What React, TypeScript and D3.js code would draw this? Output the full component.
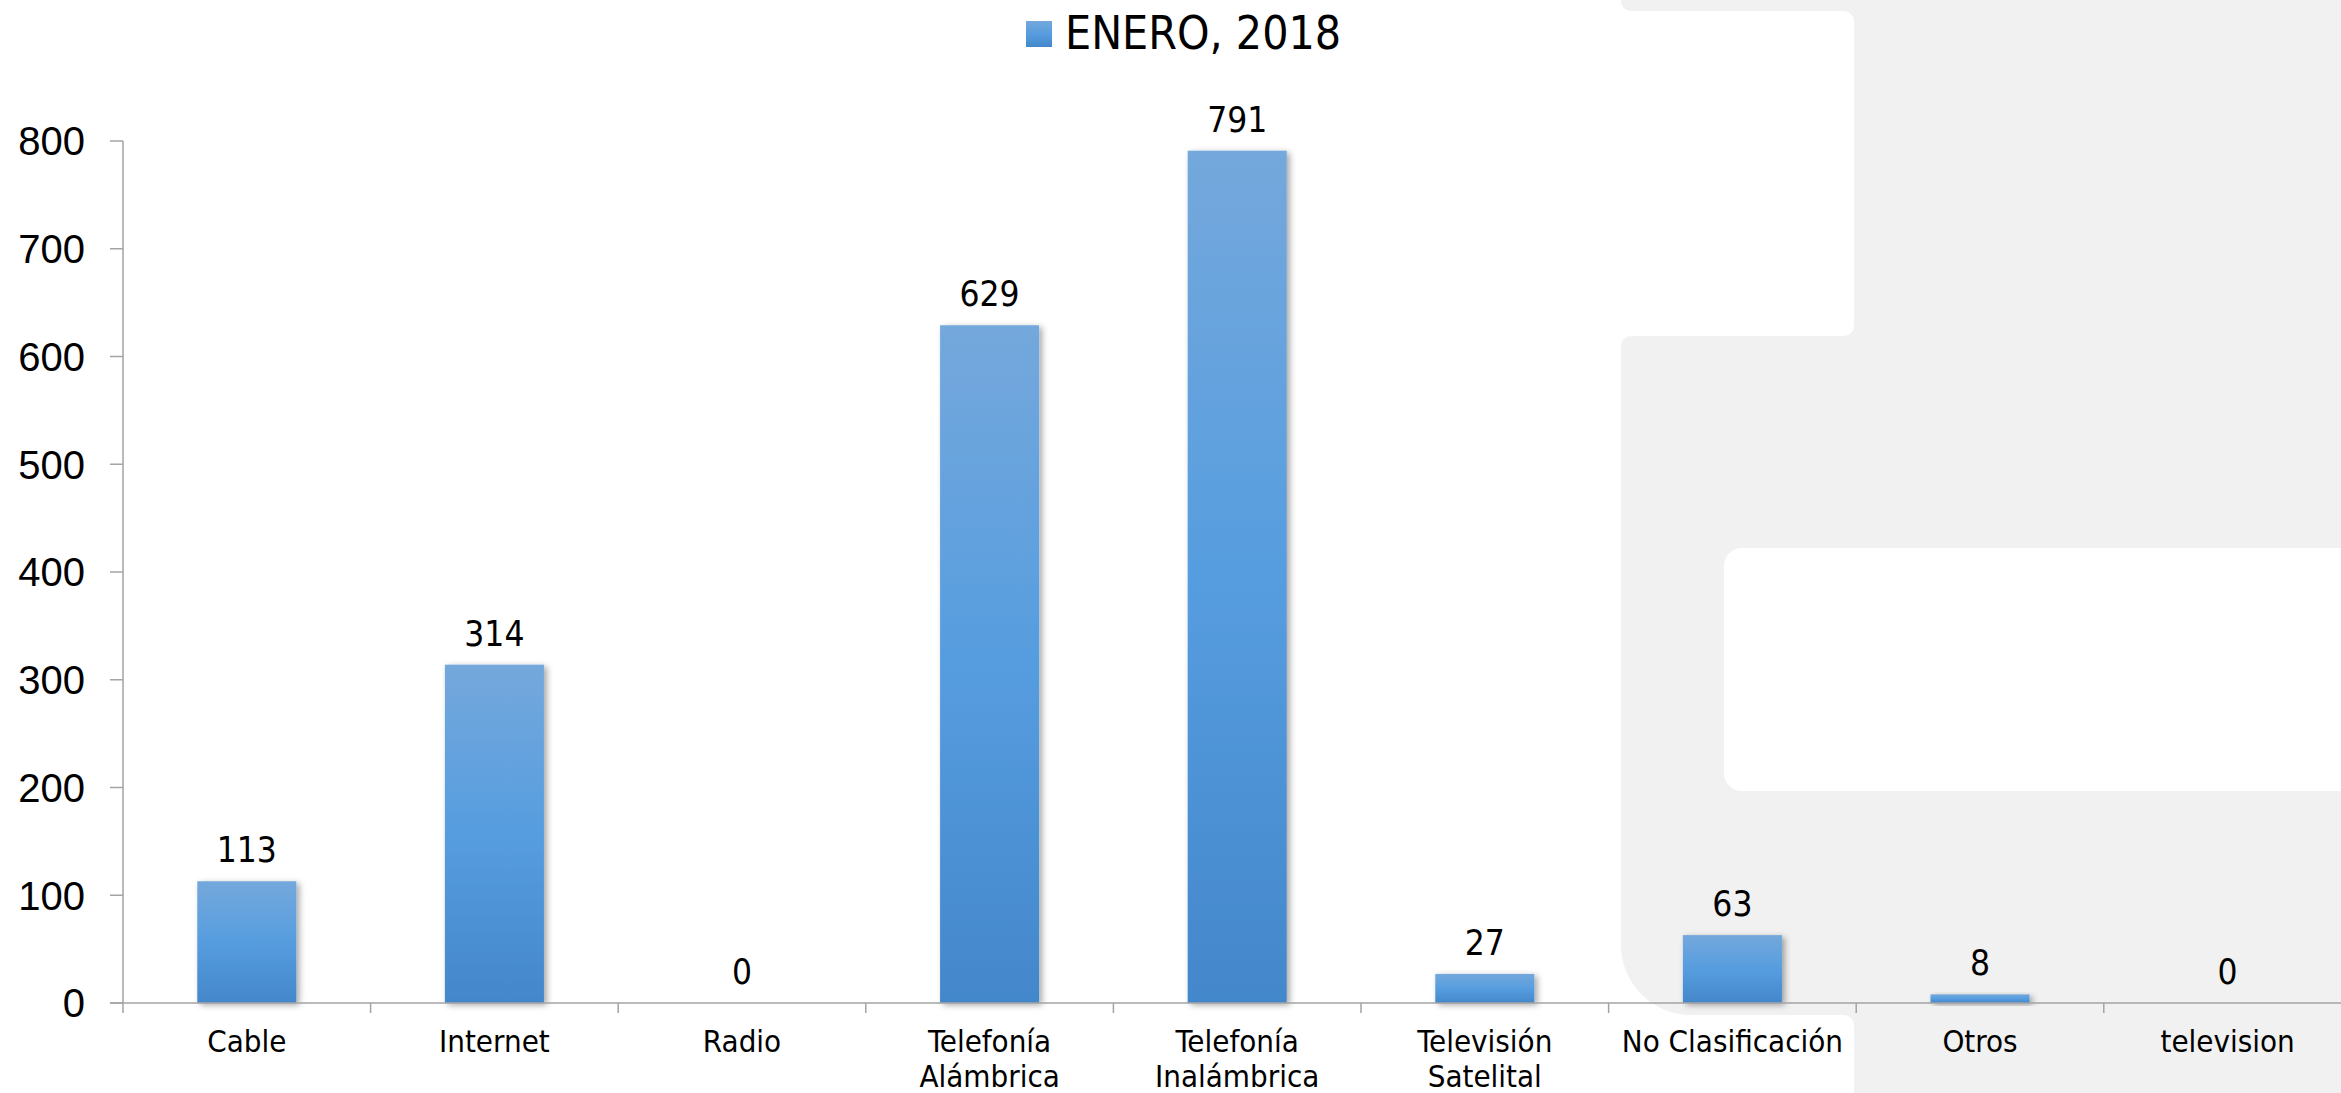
import { scaleBand, scaleLinear, range as d3range } from 'd3';

const W = 2341;
const H = 1093;

const CATEGORIES = [
  ['Cable'],
  ['Internet'],
  ['Radio'],
  ['Telefonía', 'Alámbrica'],
  ['Telefonía', 'Inalámbrica'],
  ['Televisión', 'Satelital'],
  ['No Clasificación'],
  ['Otros'],
  ['television'],
];
const VALUES = [113, 314, 0, 629, 791, 27, 63, 8, 0];
const SERIES_NAME = 'ENERO, 2018';
const Y_TICKS = [0, 100, 200, 300, 400, 500, 600, 700, 800];

const FONT = "'DejaVu Sans Condensed', 'DejaVu Sans', sans-serif";
const GRAY_BG = '#f0f1f0';
const AXIS = '#a3a3a3';

// plot box in page pixels; the category axis runs past the right edge on purpose
const X0 = 123;
const STEP = 247.6;
const Y_TOP = 141;
const Y_BASE = 1003;

// decorative slide background behind the chart
function Backdrop() {
  const r = 10;
  const R = 70;
  const L = 1621; // left edge of gray panel
  const N = 1854; // right edge of white notches
  const d = [
    `M${W},0 L${L},0 L${L},1`,
    `A${r},${r} 0 0 0 ${L + r},11`,
    `L${N - r},11 A${r},${r} 0 0 1 ${N},${11 + r}`,
    `L${N},${336 - r} A${r},${r} 0 0 1 ${N - r},336`,
    `L${L + r},336 A${r},${r} 0 0 0 ${L},${336 + r}`,
    `L${L},${1015 - R} A${R},${R} 0 0 0 ${L + R},1015`,
    `L${N - r},1015 A${r},${r} 0 0 1 ${N},${1015 + r}`,
    `L${N},${H} L${W},${H} Z`,
  ].join(' ');
  return (
    <g>
      <path d={d} fill={GRAY_BG} />
      <rect x={1724} y={548} width={W} height={243} rx={18} fill="#ffffff" />
    </g>
  );
}

export default function App() {
  const labels = CATEGORIES.map((c) => c.join(' '));
  const x = scaleBand<string>()
    .domain(labels)
    .range([X0, X0 + STEP * labels.length])
    .paddingInner(0.6)
    .paddingOuter(0.3);
  const y = scaleLinear().domain([0, 800]).range([Y_BASE, Y_TOP]);
  const bw = x.bandwidth();
  const boundaries = d3range(labels.length + 1).map((i) => X0 + i * x.step());

  return (
    <svg
      width={W}
      height={H}
      style={{ position: 'absolute', left: 0, top: 0, background: '#fff' }}
    >
      <defs>
        <linearGradient id="barFill" x1="0" y1="0" x2="0" y2="1">
          <stop offset="0%" stopColor="#74a8dc" />
          <stop offset="50%" stopColor="#569ddf" />
          <stop offset="100%" stopColor="#4387ca" />
        </linearGradient>
        <filter id="barShadow" x="-20%" y="-20%" width="150%" height="150%">
          <feDropShadow dx="3" dy="2" stdDeviation="3" floodColor="#000" floodOpacity="0.35" />
        </filter>
      </defs>

      <Backdrop />

      {/* legend */}
      <rect x={1026} y={21} width={26} height={26} fill="url(#barFill)" />
      <text x={1065} y={49} fontFamily={FONT} fontStretch="condensed" fontSize={46} fill="#000">
        {SERIES_NAME}
      </text>

      {/* bars */}
      {VALUES.map((v, i) =>
        v > 0 ? (
          <rect
            key={labels[i]}
            x={x(labels[i])}
            y={y(v)}
            width={bw}
            height={y(0) - y(v)}
            fill="url(#barFill)"
            filter="url(#barShadow)"
          />
        ) : null,
      )}

      {/* value labels */}
      {VALUES.map((v, i) => (
        <text
          key={labels[i]}
          x={(x(labels[i]) ?? 0) + bw / 2}
          y={y(v) - 19}
          textAnchor="middle"
          fontFamily={FONT}
          fontStretch="condensed"
          fontSize={35}
          fill="#000"
        >
          {v}
        </text>
      ))}

      {/* y axis */}
      <line x1={X0} x2={X0} y1={Y_TOP} y2={Y_BASE} stroke={AXIS} strokeWidth={1.5} />
      {Y_TICKS.map((t) => (
        <g key={t}>
          <line x1={X0 - 13} x2={X0} y1={y(t)} y2={y(t)} stroke={AXIS} strokeWidth={1.5} />
          <text
            x={85}
            y={y(t)}
            dy="0.36em"
            textAnchor="end"
            fontFamily="'Liberation Sans', Arial, sans-serif"
            fontSize={40}
            fill="#000"
          >
            {t}
          </text>
        </g>
      ))}

      {/* x axis */}
      <line x1={X0 - 13} x2={W} y1={Y_BASE} y2={Y_BASE} stroke={AXIS} strokeWidth={1.5} />
      {boundaries.map((bx) => (
        <line key={bx} x1={bx} x2={bx} y1={Y_BASE} y2={Y_BASE + 10} stroke={AXIS} strokeWidth={1.5} />
      ))}
      {CATEGORIES.map((lines, i) => (
        <text
          key={labels[i]}
          x={(x(labels[i]) ?? 0) + bw / 2}
          y={1052}
          textAnchor="middle"
          fontFamily={FONT}
          fontStretch="condensed"
          fontSize={31}
          fill="#000"
        >
          {lines.map((ln, j) => (
            <tspan key={ln} x={(x(labels[i]) ?? 0) + bw / 2} dy={j === 0 ? 0 : 35}>
              {ln}
            </tspan>
          ))}
        </text>
      ))}
    </svg>
  );
}
